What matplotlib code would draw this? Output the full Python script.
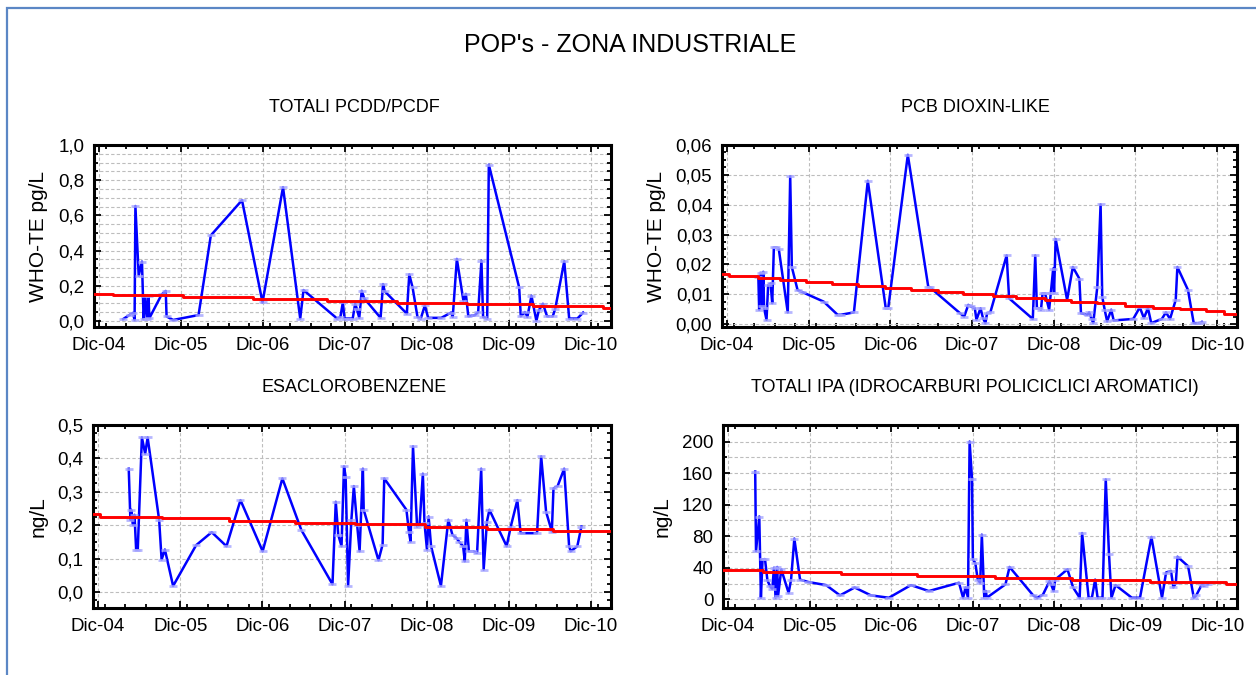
import matplotlib
matplotlib.use('Agg')
import matplotlib.pyplot as plt
import matplotlib.patches as patches
from matplotlib.ticker import MultipleLocator, FuncFormatter

plt.rcParams['font.family'] = ['Liberation Sans', 'DejaVu Sans']

# x values are decimal years (Dic-04 = 2004.917)
tick_years = [2004.917, 2005.917, 2006.917, 2007.917, 2008.917, 2009.917, 2010.917]
tick_labels = ['Dic-04', 'Dic-05', 'Dic-06', 'Dic-07', 'Dic-08', 'Dic-09', 'Dic-10']

# TOTALI PCDD/PCDF (WHO-TE pg/L)
pcdd_x = [2005.21, 2005.29, 2005.33, 2005.35, 2005.36, 2005.40, 2005.44, 2005.46, 2005.48, 2005.50,
          2005.52, 2005.53, 2005.68, 2005.73, 2005.74, 2005.82, 2006.13, 2006.28, 2006.66, 2006.91,
          2007.16, 2007.37, 2007.41, 2007.82, 2007.86, 2007.89, 2007.91, 2007.95, 2008.01, 2008.04,
          2008.06, 2008.09, 2008.12, 2008.15, 2008.35, 2008.38, 2008.40, 2008.67, 2008.70, 2008.74,
          2008.80, 2008.84, 2008.89, 2008.93, 2009.09, 2009.21, 2009.23, 2009.28, 2009.36, 2009.39,
          2009.42, 2009.50, 2009.54, 2009.58, 2009.60, 2009.65, 2009.67, 2010.04, 2010.06, 2010.11,
          2010.14, 2010.19, 2010.25, 2010.28, 2010.33, 2010.38, 2010.45, 2010.48, 2010.59, 2010.65,
          2010.75, 2010.82]
pcdd_y = [0.01, 0.034, 0.045, 0.005, 0.653, 0.257, 0.337, 0.01, 0.143, 0.01,
          0.14, 0.015, 0.15, 0.17, 0.025, 0.005, 0.033, 0.486, 0.686, 0.105,
          0.76, 0.013, 0.175, 0.013, 0.022, 0.106, 0.013, 0.013, 0.013, 0.097,
          0.069, 0.017, 0.171, 0.128, 0.017, 0.209, 0.168, 0.041, 0.264, 0.19,
          0.022, 0.013, 0.088, 0.017, 0.017, 0.047, 0.022, 0.352, 0.115, 0.153,
          0.026, 0.032, 0.05, 0.343, 0.022, 0.013, 0.888, 0.19, 0.026, 0.05,
          0.022, 0.143, 0.0, 0.06, 0.097, 0.026, 0.026, 0.069, 0.339, 0.013,
          0.013, 0.047]
pcdd_trend_x = [2004.855, 2005.09, 2005.94, 2006.80, 2007.70, 2008.55, 2009.40, 2010.21, 2011.06, 2011.16]
pcdd_trend_y = [0.155, 0.145, 0.135, 0.125, 0.115, 0.104, 0.093, 0.083, 0.072]

# PCB DIOXIN-LIKE (WHO-TE pg/L)
pcb_x = [2005.30, 2005.31, 2005.33, 2005.35, 2005.36, 2005.37, 2005.40, 2005.42, 2005.45, 2005.47,
         2005.49, 2005.52, 2005.55, 2005.66, 2005.69, 2005.71, 2005.78, 2005.83, 2006.10, 2006.27,
         2006.31, 2006.47, 2006.64, 2006.86, 2006.89, 2007.13, 2007.38, 2007.40, 2007.77, 2007.82,
         2007.87, 2007.90, 2007.95, 2007.97, 2008.02, 2008.05, 2008.08, 2008.10, 2008.14, 2008.34,
         2008.37, 2008.66, 2008.69, 2008.71, 2008.73, 2008.76, 2008.78, 2008.81, 2008.86, 2008.88,
         2008.91, 2008.92, 2008.94, 2009.08, 2009.15, 2009.23, 2009.25, 2009.33, 2009.35, 2009.38,
         2009.40, 2009.45, 2009.49, 2009.51, 2009.54, 2009.57, 2009.62, 2009.65, 2009.89, 2009.97,
         2010.02, 2010.07, 2010.11, 2010.24, 2010.29, 2010.34, 2010.41, 2010.43, 2010.56, 2010.63,
         2010.71, 2010.73]
pcb_y = [0.0158, 0.0048, 0.0171, 0.0059, 0.0175, 0.0053, 0.0014, 0.0130, 0.0136, 0.0070,
         0.0257, 0.0257, 0.0252, 0.0039, 0.0495, 0.0191, 0.0114, 0.0108, 0.0075, 0.0031,
         0.0031, 0.0039, 0.0480, 0.0053, 0.0053, 0.0567, 0.0125, 0.0123, 0.0036, 0.0025,
         0.0064, 0.0059, 0.0053, 0.0014, 0.0053, 0.0020, 0.0003, 0.0036, 0.0039, 0.0230,
         0.0086, 0.0017, 0.0230, 0.0053, 0.0053, 0.0048, 0.0103, 0.0103, 0.0048, 0.0103,
         0.0186, 0.0103, 0.0285, 0.0081, 0.0191, 0.0152, 0.0036, 0.0031, 0.0039, 0.0017,
         0.0003, 0.0125, 0.0401, 0.0092, 0.0048, 0.0009, 0.0048, 0.0012, 0.0017, 0.0056,
         0.0020, 0.0053, 0.0003, 0.0017, 0.0039, 0.0017, 0.0081, 0.0191, 0.0114, 0.0003,
         0.0003, 0.0007]
pcb_trend_x = [2004.855, 2004.94, 2005.30, 2005.56, 2005.88, 2006.20, 2006.52, 2006.85, 2007.17, 2007.50,
               2007.81, 2008.17, 2008.46, 2008.81, 2009.13, 2009.45, 2009.79, 2010.13, 2010.46, 2010.78,
               2011.00, 2011.16]
pcb_trend_y = [0.0169, 0.0161, 0.0155, 0.0148, 0.0141, 0.0135, 0.0128, 0.0122, 0.0115, 0.0108,
               0.0102, 0.0095, 0.0088, 0.0082, 0.0075, 0.0069, 0.0062, 0.0055, 0.0049, 0.0042,
               0.0035]

# ESACLOROBENZENE (ng/L)
hcb_x = [2005.29, 2005.31, 2005.32, 2005.34, 2005.36, 2005.38, 2005.40, 2005.45, 2005.49, 2005.52,
         2005.66, 2005.69, 2005.73, 2005.83, 2006.11, 2006.30, 2006.48, 2006.65, 2006.92, 2007.16,
         2007.39, 2007.77, 2007.81, 2007.84, 2007.88, 2007.91, 2007.93, 2007.96, 2008.00, 2008.03,
         2008.07, 2008.10, 2008.14, 2008.15, 2008.33, 2008.38, 2008.40, 2008.67, 2008.70, 2008.72,
         2008.75, 2008.80, 2008.83, 2008.87, 2008.89, 2008.92, 2008.94, 2008.97, 2009.09, 2009.18,
         2009.23, 2009.28, 2009.31, 2009.36, 2009.38, 2009.40, 2009.43, 2009.48, 2009.53, 2009.58,
         2009.61, 2009.65, 2009.68, 2009.89, 2009.94, 2010.02, 2010.06, 2010.26, 2010.31, 2010.37,
         2010.44, 2010.46, 2010.51, 2010.59, 2010.65, 2010.67, 2010.75, 2010.80]
hcb_y = [0.369, 0.216, 0.246, 0.201, 0.231, 0.127, 0.127, 0.463, 0.414, 0.463,
         0.216, 0.097, 0.127, 0.018, 0.140, 0.179, 0.137, 0.275, 0.122, 0.340,
         0.186, 0.023, 0.270, 0.171, 0.137, 0.376, 0.345, 0.018, 0.216, 0.317,
         0.201, 0.122, 0.369, 0.246, 0.095, 0.142, 0.340, 0.246, 0.181, 0.151,
         0.436, 0.196, 0.201, 0.354, 0.206, 0.127, 0.226, 0.137, 0.018, 0.216,
         0.171, 0.161, 0.151, 0.137, 0.092, 0.216, 0.122, 0.122, 0.117, 0.369,
         0.067, 0.211, 0.246, 0.137, 0.196, 0.275, 0.176, 0.176, 0.406, 0.240,
         0.181, 0.310, 0.317, 0.369, 0.137, 0.122, 0.137, 0.196]
hcb_trend_x = [2004.855, 2004.94, 2005.70, 2006.51, 2007.31, 2008.04, 2008.89, 2009.65, 2010.45, 2011.16]
hcb_trend_y = [0.233, 0.226, 0.221, 0.214, 0.208, 0.203, 0.196, 0.190, 0.183]

# TOTALI IPA (ng/L)
ipa_x = [2005.25, 2005.26, 2005.30, 2005.32, 2005.34, 2005.37, 2005.40, 2005.43, 2005.46, 2005.48,
         2005.50, 2005.52, 2005.53, 2005.57, 2005.66, 2005.69, 2005.73, 2005.80, 2005.90, 2006.12,
         2006.29, 2006.47, 2006.67, 2006.89, 2007.16, 2007.38, 2007.75, 2007.80, 2007.83, 2007.86,
         2007.88, 2007.91, 2007.92, 2007.95, 2007.98, 2008.01, 2008.03, 2008.06, 2008.08, 2008.09,
         2008.32, 2008.37, 2008.66, 2008.71, 2008.78, 2008.86, 2008.88, 2008.91, 2008.93, 2009.08,
         2009.15, 2009.23, 2009.26, 2009.34, 2009.38, 2009.42, 2009.45, 2009.51, 2009.55, 2009.59,
         2009.62, 2009.67, 2009.87, 2009.97, 2010.11, 2010.24, 2010.29, 2010.35, 2010.38, 2010.41,
         2010.43, 2010.56, 2010.63, 2010.66, 2010.73, 2010.75, 2010.80]
ipa_y = [162, 61, 105, 2, 50.5, 51, 24, 17, 13, 40,
         2, 41, 4, 38, 8, 25, 77, 25, 22, 18,
         5, 15, 5, 2, 18, 10.5, 21, 2, 15, 2,
         200, 152, 50.5, 46, 25, 21, 82, 2, 10.5, 2,
         19, 41, 5, 2, 6, 23, 19, 10.5, 25, 38,
         15, 2, 84, 2, 2, 25, 2, 2, 152, 57,
         2, 18, 2, 2, 79, 2, 34, 36, 15, 21,
         54, 42, 2, 5, 19, 17, 19]
ipa_trend_x = [2004.855, 2005.35, 2006.30, 2007.24, 2008.19, 2009.14, 2010.09, 2011.02, 2011.16]
ipa_trend_y = [37.5, 34.5, 32.0, 29.5, 27.4, 24.8, 22.3, 19.0]

W, H = 1256, 675
fig = plt.figure(figsize=(W / 100, H / 100), dpi=100)
fig.patch.set_facecolor('white')

# thin blue frame around the sheet
fig.add_artist(patches.Rectangle((7 / W, -0.05), 1.1, 1 - 8 / H + 0.05, transform=fig.transFigure,
                                 fill=False, edgecolor='#5b87c5', linewidth=1.6))

fig.text(630 / W, 1 - 45 / H, "POP's - ZONA INDUSTRIALE", ha='center', va='center', fontsize=18)


def comma_fmt(decimals):
    return FuncFormatter(lambda v, p: f'{v:.{decimals}f}'.replace('.', ','))


def draw_panel(rect, title, title_xy, ylabel, xs, ys, tx, ty, ylim, major, minor, decimals, minor_grid):
    ax = fig.add_axes(rect)
    ax.plot(xs, ys, color='#0000ff', linewidth=1.8, zorder=3)
    ax.plot(xs, ys, linestyle='none', marker='_', markersize=6, markeredgewidth=2,
            color='#a4a4ff', alpha=0.8, zorder=4)
    ax.step(tx, ty + [ty[-1]], where='post', color='#ff0000', linewidth=2.1, zorder=5)

    ax.set_xlim(2004.855, 2011.16)
    ax.set_ylim(*ylim)
    ax.set_xticks(tick_years)
    ax.set_xticklabels(tick_labels)
    ax.xaxis.set_minor_locator(MultipleLocator(0.25))
    ax.yaxis.set_major_locator(MultipleLocator(major))
    ax.yaxis.set_minor_locator(MultipleLocator(minor))
    ax.yaxis.set_major_formatter(comma_fmt(decimals))

    ax.tick_params(which='both', direction='in', top=True, right=True, labelsize=13.5, width=1.3)
    ax.tick_params(which='major', length=5, pad=7)
    ax.tick_params(which='minor', length=3)
    for s in ax.spines.values():
        s.set_linewidth(2.2)

    grid_kw = dict(color='#bdbdbd', linestyle=(0, (3, 2)), linewidth=0.8)
    ax.grid(True, which='major', **grid_kw)
    if minor_grid:
        ax.yaxis.grid(True, which='minor', **grid_kw)
    ax.set_axisbelow(True)

    ax.set_ylabel(ylabel, fontsize=15, labelpad=7)
    fig.text(title_xy[0] / W, 1 - title_xy[1] / H, title, ha='center', va='center', fontsize=13)
    return ax


draw_panel([94 / W, 1 - 327 / H, 517 / W, 182 / H], 'TOTALI PCDD/PCDF', (354, 108), 'WHO-TE pg/L',
           pcdd_x, pcdd_y, pcdd_trend_x, pcdd_trend_y, (-0.035, 1.0), 0.2, 0.05, 1, True)
draw_panel([722 / W, 1 - 327 / H, 515 / W, 182 / H], 'PCB DIOXIN-LIKE', (975, 108), 'WHO-TE pg/L',
           pcb_x, pcb_y, pcb_trend_x, pcb_trend_y, (-0.001, 0.06), 0.01, 0.0025, 2, False)
draw_panel([93 / W, 1 - 608 / H, 518 / W, 183 / H], 'ESACLOROBENZENE', (354, 388), 'ng/L',
           hcb_x, hcb_y, hcb_trend_x, hcb_trend_y, (-0.048, 0.5), 0.1, 0.025, 1, False)
draw_panel([723 / W, 1 - 608 / H, 514 / W, 183 / H], 'TOTALI IPA (IDROCARBURI POLICICLICI AROMATICI)', (975, 388),
           'ng/L', ipa_x, ipa_y, ipa_trend_x, ipa_trend_y, (-11, 221), 40, 20, 0, True)

fig.savefig('out.png', dpi=100, facecolor='white')
